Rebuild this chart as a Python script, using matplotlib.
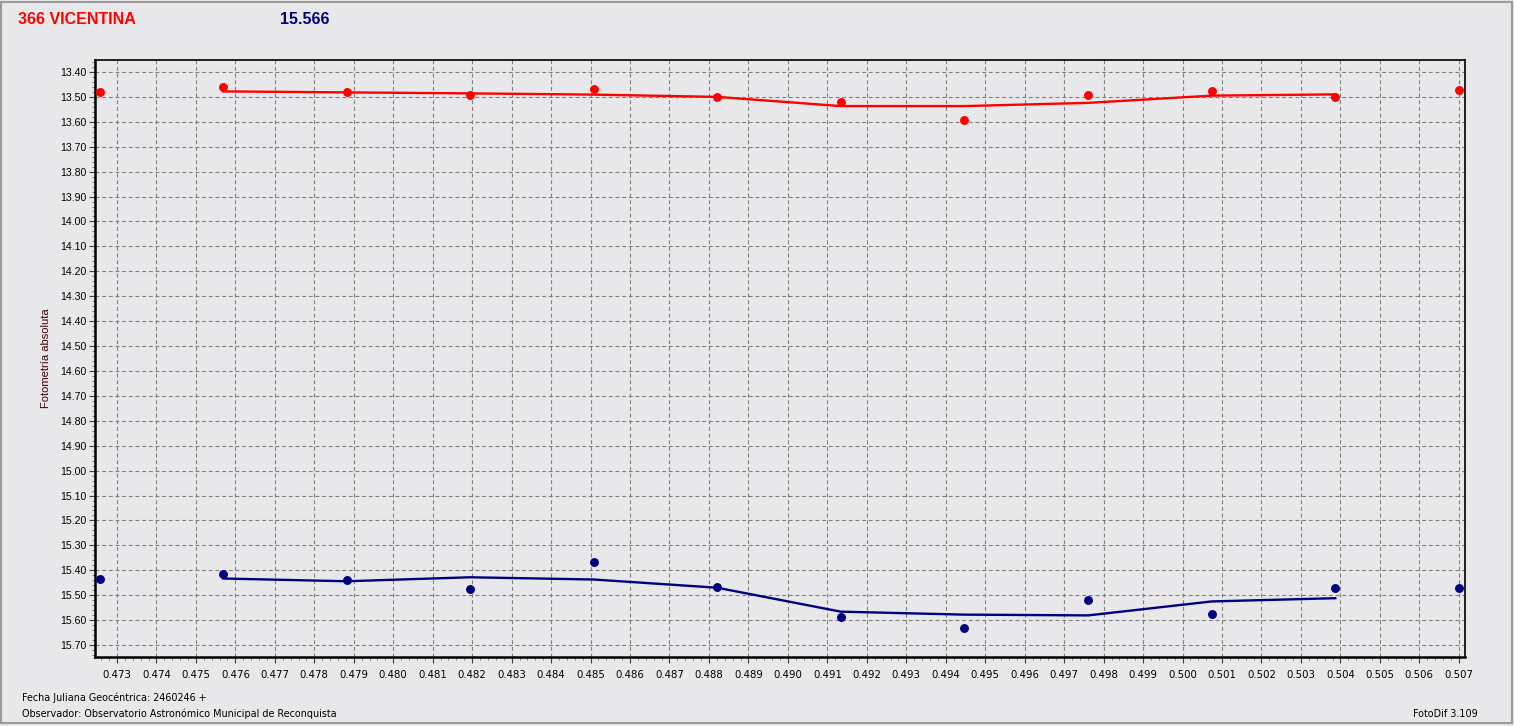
import numpy as np
import matplotlib
matplotlib.use('Agg')
import matplotlib.pyplot as plt
from matplotlib.ticker import MultipleLocator, FormatStrFormatter
from matplotlib.patches import Rectangle

# --- Data
jd = [0.47256, 0.47569, 0.47882, 0.48195, 0.48508, 0.48821,
      0.49134, 0.49447, 0.49761, 0.50074, 0.50387, 0.50700]

mag_var = [13.482, 13.462, 13.482, 13.494, 13.470, 13.502,
           13.522, 13.591, 13.494, 13.478, 13.502, 13.474]
fit_var = [np.nan, 13.478, 13.482, 13.486, 13.491, 13.500,
           13.537, 13.537, 13.524, 13.495, 13.490, np.nan]

mag_cmp = [15.433, 15.416, 15.437, 15.477, 15.365, 15.468,
           15.589, 15.632, 15.520, 15.576, 15.473, 15.473]
fit_cmp = [np.nan, 15.433, 15.444, 15.428, 15.437, 15.470,
           15.566, 15.578, 15.581, 15.525, 15.512, np.nan]

title_obj = '366 VICENTINA'
title_mag = '15.566'
ylabel = 'Fotometría absoluta'
foot_jd = 'Fecha Juliana Geocéntrica: 2460246 +'
foot_obs = 'Observador: Observatorio Astronómico Municipal de Reconquista'
foot_sw = 'FotoDif 3.109'

bg = '#e8e8ea'
red = '#ff0000'
navy = '#000080'

W, H = 1514, 726
fig = plt.figure(figsize=(W / 100, H / 100), dpi=100, facecolor=bg)

# axes box in pixels: left 95, right 1465, top 60, bottom 657
ax = fig.add_axes([95 / W, (H - 657) / H, (1465 - 95) / W, (657 - 60) / H])
ax.set_facecolor(bg)

ax.plot(jd, mag_var, 'o', color=red, markersize=5.4, zorder=4)
ax.plot(jd, fit_var, '-', color=red, linewidth=1.7, zorder=3)
ax.plot(jd, mag_cmp, 'o', color=navy, markersize=5.4, zorder=4)
ax.plot(jd, fit_cmp, '-', color=navy, linewidth=1.7, zorder=3)

ax.set_xlim(0.472443, 0.507157)
ax.set_ylim(15.748, 13.352)

ax.xaxis.set_major_locator(MultipleLocator(0.001))
ax.xaxis.set_minor_locator(MultipleLocator(0.0002))
ax.xaxis.set_major_formatter(FormatStrFormatter('%.3f'))
ax.yaxis.set_major_locator(MultipleLocator(0.1))
ax.yaxis.set_minor_locator(MultipleLocator(0.02))
ax.yaxis.set_major_formatter(FormatStrFormatter('%.2f'))

ax.grid(which='major', color='#808080', linestyle=(0, (3.5, 2.5)), linewidth=0.8)
ax.set_axisbelow(True)

ax.tick_params(which='major', length=4, width=0.8, color='#404040')
ax.tick_params(which='minor', length=2, width=0.6, color='#707070')
ax.tick_params(axis='x', labelsize=7.3, pad=5)
ax.tick_params(axis='y', labelsize=7.6, pad=2)
for lab in ax.get_yticklabels():
    lab.set_family('Liberation Sans')

for side in ['left', 'bottom']:
    ax.spines[side].set_linewidth(1.8)
for side in ['top', 'right']:
    ax.spines[side].set_linewidth(1.2)

ax.set_ylabel(ylabel, fontsize=8, family='Liberation Sans', color='#3a0000', labelpad=7)

# titles
fig.text(18 / W, 1 - 19 / H, title_obj, color=red, fontsize=11.5, fontweight='bold',
         family='Liberation Sans', ha='left', va='center')
fig.text(280 / W, 1 - 19 / H, title_mag, color=navy, fontsize=11.5, fontweight='bold',
         family='Liberation Sans', ha='left', va='center')

# footnotes
fig.text(22 / W, 1 - 698 / H, foot_jd, fontsize=6.9, ha='left', va='center')
fig.text(22 / W, 1 - 714 / H, foot_obs, fontsize=6.9, ha='left', va='center')
fig.text(1478 / W, 1 - 714 / H, foot_sw, fontsize=6.9, ha='right', va='center')

# window frame
fig.patches.append(Rectangle((0.5 / W, 3 / H), (W - 3) / W, (H - 5) / H, transform=fig.transFigure,
                             fill=False, edgecolor='#9a9a9a', linewidth=1.5))

fig.savefig('out.png', dpi=100, facecolor=bg)
